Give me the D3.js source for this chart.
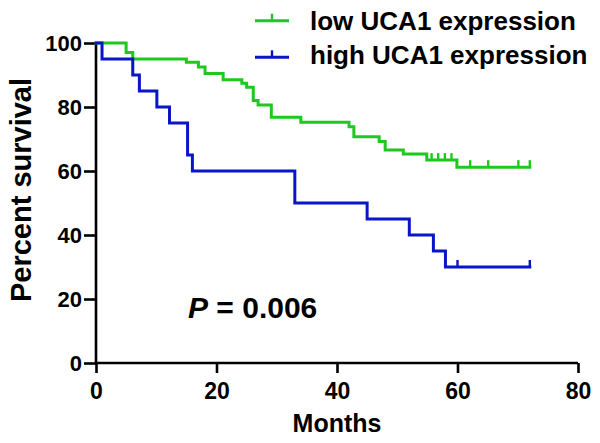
<!DOCTYPE html>
<html><head><meta charset="utf-8">
<script src="https://cdn.jsdelivr.net/npm/d3@7"></script>
<style>
body{margin:0;background:#fff;}
svg{display:block;}
text{font-family:"Liberation Sans",Arial,sans-serif;font-weight:bold;fill:#000;}
</style></head>
<body><svg id="c" width="600" height="443"></svg>
<script>
// ---- data ----
const seriesNames = ["low UCA1 expression", "high UCA1 expression"];
const seriesColors = ["#1ec81e", "#0a14c8"];
const lowTimes = [0, 5, 6.1, 15, 17, 18.1, 21.1, 24.2, 25, 26.1, 26.9, 29.1, 34, 42, 42.8, 47, 48, 51, 54.9, 59.9, 72];
const lowSurv  = [100, 97, 95, 94, 92.5, 90.5, 88.5, 87.4, 86.2, 82, 80.6, 76.8, 75.2, 73.8, 70.7, 69.2, 66.6, 65.3, 63.4, 61.2, 61.2];
const lowCensorTimes = [55.7, 56.8, 57.9, 59.0, 62.1, 65.1, 70.1, 72];
const lowCensorSurv  = [63.4, 63.4, 63.4, 63.4, 61.2, 61.2, 61.2, 61.2];
const highTimes = [0, 1, 6.1, 7.2, 10.1, 12.2, 15.2, 16, 33, 45, 52, 56, 58, 72];
const highSurv  = [100, 95, 90, 85, 80, 75, 65, 60, 50, 45, 40, 35, 30, 30];
const highCensorTimes = [60, 72];
const highCensorSurv  = [30, 30];
const xTicks = [0, 20, 40, 60, 80];
const yTicks = [0, 20, 40, 60, 80, 100];
const xLabel = "Months";
const yLabel = "Percent survival";
const pText = "= 0.006";

// ---- chart ----
const svg = d3.select("#c");
const x = d3.scaleLinear().domain([0, 80]).range([96, 578]);
const y = d3.scaleLinear().domain([0, 100]).range([363, 43]);

const line = d3.line().x(d => x(d[0])).y(d => y(d[1])).curve(d3.curveStepAfter);

const series = [
  {times: lowTimes, surv: lowSurv, ct: lowCensorTimes, cs: lowCensorSurv, color: seriesColors[0], name: seriesNames[0]},
  {times: highTimes, surv: highSurv, ct: highCensorTimes, cs: highCensorSurv, color: seriesColors[1], name: seriesNames[1]}
];

// axes
const yAxis = d3.axisLeft(y).tickValues(yTicks).tickSize(12).tickPadding(2).tickSizeOuter(0);
const xAxis = d3.axisBottom(x).tickValues(xTicks).tickSize(10).tickPadding(10).tickSizeOuter(0);
const gy = svg.append("g").attr("transform", `translate(${x(0)},0)`).call(yAxis);
const gx = svg.append("g").attr("transform", `translate(0,${y(0)})`).call(xAxis);
[gx, gy].forEach(g => {
  g.select(".domain").attr("stroke", "#000").attr("stroke-width", 2.6);
  g.selectAll(".tick line").attr("stroke", "#000").attr("stroke-width", 2.6);
  g.selectAll(".tick text").attr("font-family", "Liberation Sans, Arial, sans-serif").attr("font-weight", "bold").attr("fill", "#000");
});
gy.selectAll(".tick text").attr("font-size", 22).attr("dy", "0.36em");
gx.selectAll(".tick text").attr("font-size", 23).attr("dy", "0.71em");
gy.select(".domain").attr("d", `M0,${y(100)}V${y(0)+1.3}`);
gx.select(".domain").attr("d", `M${x(0)-1.3},0H${x(80)}`);

// curves
series.forEach(s => {
  const pts = s.times.map((t, i) => [t, s.surv[i]]);
  svg.append("path").attr("d", line(pts)).attr("fill", "none")
    .attr("stroke", s.color).attr("stroke-width", 3).attr("stroke-linejoin", "miter").attr("stroke-linecap", "square");
  svg.append("g").selectAll("line").data(s.ct.map((t, i) => [t, s.cs[i]])).join("line")
    .attr("x1", d => x(d[0])).attr("x2", d => x(d[0]))
    .attr("y1", d => y(d[1])).attr("y2", d => y(d[1]) - 7)
    .attr("stroke", s.color).attr("stroke-width", 2.4);
});

// legend
const legY = [20.7, 57.3];
const legTextY = [30, 64];
series.forEach((s, i) => {
  svg.append("line").attr("x1", 255).attr("x2", 289).attr("y1", legY[i]).attr("y2", legY[i])
    .attr("stroke", s.color).attr("stroke-width", 3);
  svg.append("line").attr("x1", 272).attr("x2", 272).attr("y1", legY[i]).attr("y2", legY[i] - 7)
    .attr("stroke", s.color).attr("stroke-width", 2.4);
  svg.append("text").attr("x", 310).attr("y", legTextY[i]).attr("font-size", 26)
    .text(s.name);
});

// axis labels
svg.append("text").attr("x", 337).attr("y", 432).attr("text-anchor", "middle").attr("font-size", 25).text(xLabel);
svg.append("text").attr("transform", "translate(31,190) rotate(-90)").attr("text-anchor", "middle").attr("font-size", 29).text(yLabel);

// p value
const pt = svg.append("text").attr("x", 188).attr("y", 318).attr("font-size", 30);
pt.append("tspan").attr("font-style", "italic").text("P");
pt.append("tspan").text(" " + pText);
</script></body></html>
